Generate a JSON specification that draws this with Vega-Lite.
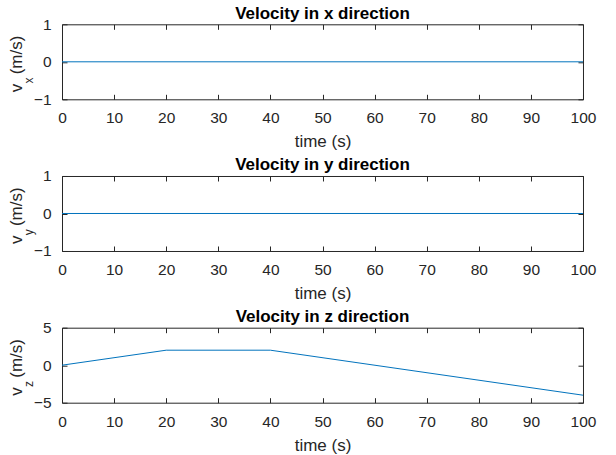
{
  "$schema": "https://vega.github.io/schema/vega-lite/v6.json",
  "background": "white",
  "padding": {"left": 6, "top": 4.3, "right": 5, "bottom": 5},
  "datasets": {
    "vx": [{"t": 0, "v": 0}, {"t": 100, "v": 0}],
    "vy": [{"t": 0, "v": 0}, {"t": 100, "v": 0}],
    "vz": [{"t": 0, "v": 0}, {"t": 20, "v": 2}, {"t": 40, "v": 2}, {"t": 100, "v": -4}]
  },
  "vconcat": [
    {
      "title": "Velocity in x direction",
      "width": 521, "height": 75,
      "data": {"name": "vx"},
      "layer": [
        {
          "mark": {"type": "line", "color": "#0072BD", "strokeWidth": 1},
          "encoding": {
            "x": {"field": "t", "type": "quantitative", "scale": {"domain": [0, 100], "nice": false, "zero": false},
                  "axis": {"orient": "bottom", "title": "time (s)", "values": [0,10,20,30,40,50,60,70,80,90,100]}},
            "y": {"field": "v", "type": "quantitative", "scale": {"domain": [-1, 1], "nice": false},
                  "axis": {"orient": "left", "title": "v\u00a0\u00a0(m/s)", "values": [-1, 0, 1]}}
          }
        },
        {
          "mark": {"type": "line", "opacity": 0},
          "encoding": {
            "x": {"field": "t", "type": "quantitative",
                  "axis": {"orient": "top", "labels": false, "values": [0,10,20,30,40,50,60,70,80,90,100],
                           "title": "x", "titleX": -30, "titleY": 55.7, "titleAngle": 270, "titleFontSize": 12, "titleAlign": "center", "titleBaseline": "alphabetic"}},
            "y": {"field": "v", "type": "quantitative",
                  "axis": {"orient": "right", "labels": false, "title": null, "values": [-1, 0, 1]}}
          }
        }
      ],
      "resolve": {"axis": {"x": "independent", "y": "independent"}}
    },
    {
      "title": "Velocity in y direction",
      "width": 521, "height": 75,
      "data": {"name": "vy"},
      "layer": [
        {
          "mark": {"type": "line", "color": "#0072BD", "strokeWidth": 1},
          "encoding": {
            "x": {"field": "t", "type": "quantitative", "scale": {"domain": [0, 100], "nice": false, "zero": false},
                  "axis": {"orient": "bottom", "title": "time (s)", "values": [0,10,20,30,40,50,60,70,80,90,100]}},
            "y": {"field": "v", "type": "quantitative", "scale": {"domain": [-1, 1], "nice": false},
                  "axis": {"orient": "left", "title": "v\u00a0\u00a0(m/s)", "values": [-1, 0, 1]}}
          }
        },
        {
          "mark": {"type": "line", "opacity": 0},
          "encoding": {
            "x": {"field": "t", "type": "quantitative",
                  "axis": {"orient": "top", "labels": false, "values": [0,10,20,30,40,50,60,70,80,90,100],
                           "title": "y", "titleX": -30, "titleY": 55.7, "titleAngle": 270, "titleFontSize": 12, "titleAlign": "center", "titleBaseline": "alphabetic"}},
            "y": {"field": "v", "type": "quantitative",
                  "axis": {"orient": "right", "labels": false, "title": null, "values": [-1, 0, 1]}}
          }
        }
      ],
      "resolve": {"axis": {"x": "independent", "y": "independent"}}
    },
    {
      "title": "Velocity in z direction",
      "width": 521, "height": 75,
      "data": {"name": "vz"},
      "layer": [
        {
          "mark": {"type": "line", "color": "#0072BD", "strokeWidth": 1},
          "encoding": {
            "x": {"field": "t", "type": "quantitative", "scale": {"domain": [0, 100], "nice": false, "zero": false},
                  "axis": {"orient": "bottom", "title": "time (s)", "values": [0,10,20,30,40,50,60,70,80,90,100]}},
            "y": {"field": "v", "type": "quantitative", "scale": {"domain": [-5, 5], "nice": false},
                  "axis": {"orient": "left", "title": "v\u00a0\u00a0(m/s)", "values": [-5, 0, 5]}}
          }
        },
        {
          "mark": {"type": "line", "opacity": 0},
          "encoding": {
            "x": {"field": "t", "type": "quantitative",
                  "axis": {"orient": "top", "labels": false, "values": [0,10,20,30,40,50,60,70,80,90,100],
                           "title": "z", "titleX": -30, "titleY": 55.7, "titleAngle": 270, "titleFontSize": 12, "titleAlign": "center", "titleBaseline": "alphabetic"}},
            "y": {"field": "v", "type": "quantitative",
                  "axis": {"orient": "right", "labels": false, "title": null, "values": [-5, 0, 5]}}
          }
        }
      ],
      "resolve": {"axis": {"x": "independent", "y": "independent"}}
    }
  ],
  "bounds": "flush",
  "spacing": 76.7,
  "config": {
    "font": "Liberation Sans",
    "view": {"stroke": "#262626", "strokeWidth": 1},
    "axis": {
      "grid": false, "domain": false, "tickSize": -5, "tickColor": "#262626", "tickWidth": 1, "format": "d",
      "labelColor": "#262626", "labelFont": "Liberation Sans", "labelFontSize": 15.5, "labelFlush": false, "labelOverlap": false,
      "titleFont": "Liberation Sans", "titleFontSize": 17, "titleFontWeight": "normal", "titleColor": "#262626"
    },
    "axisBottom": {"labelPadding": 16.5, "titlePadding": 7.5},
    "axisLeft": {"labelPadding": 16, "titlePadding": 8, "titleY": 39.2},
    "title": {"fontSize": 17, "fontWeight": "bold", "color": "#000000", "offset": -5.5, "font": "Liberation Sans"}
  }
}
